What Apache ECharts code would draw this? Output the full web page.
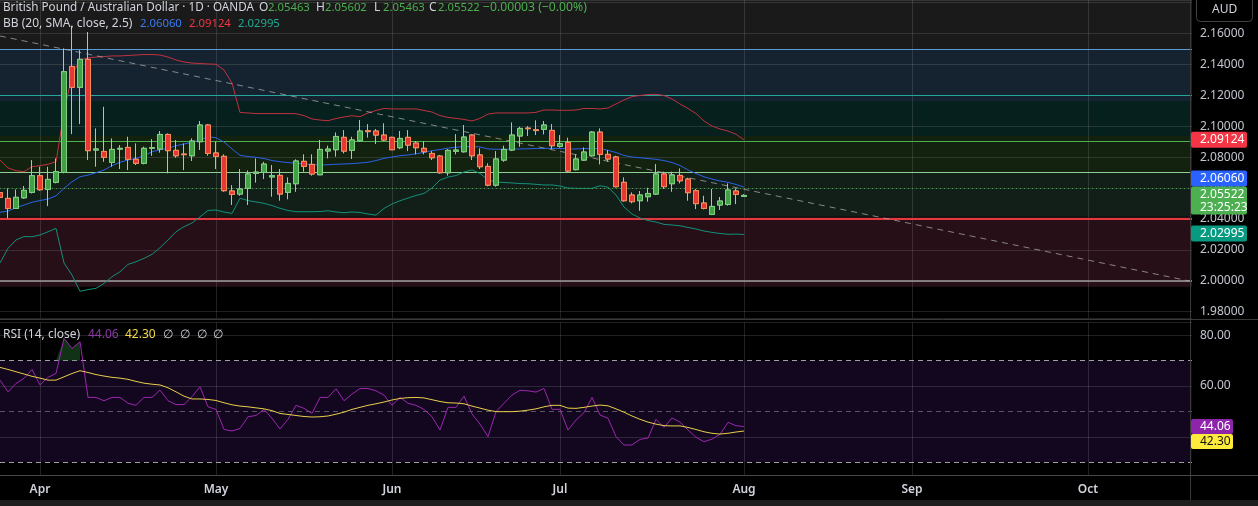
<!DOCTYPE html>
<html><head><meta charset="utf-8">
<script src="https://cdn.jsdelivr.net/npm/echarts@6/dist/echarts.min.js"></script>
<style>html,body{margin:0;padding:0;background:#000;overflow:hidden}#c{width:1258px;height:506px}</style>
</head><body><div id="c"></div>
<script>
// ---------- DATA ----------
const firstBarDate = '2025-03-25';
const barCount = 150;
const openP = [2.0570,2.0533,2.0468,2.0537,2.0572,2.0680,2.0591,2.0637,2.0701,2.1387,
2.1252,2.1433,2.0846,2.0837,2.0766,2.0852,2.0863,2.0786,2.0760,2.0858,
2.0852,2.0947,2.0844,2.0820,2.0809,2.0900,2.1008,2.0827,2.0805,2.0581,
2.0561,2.0598,2.0695,2.0701,2.0672,2.0682,2.0572,2.0628,2.0773,2.0753,
2.0686,2.0840,2.0848,2.0928,2.0844,2.0906,2.0971,2.0969,2.0943,2.0928,
2.0861,2.0928,2.0891,2.0857,2.0824,2.0807,2.0699,2.0838,2.0835,2.0943,
2.0814,2.0740,2.0619,2.0781,2.0846,2.0937,2.0988,2.0977,2.0980,2.0973,
2.0870,2.0896,2.0719,2.0781,2.0809,2.0962,2.0818,2.0801,2.0637,2.0555,
2.0518,2.0544,2.0561,2.0691,2.0628,2.0682,2.0658,2.0583,2.0503,2.0430,
2.0490,2.0494,2.0581,2.05463];
const highP = [2.0585,2.0598,2.0591,2.0613,2.0781,2.0738,2.0738,2.0792,2.1504,2.1650,
2.1493,2.1610,2.0986,2.1126,2.0921,2.0878,2.0932,2.0889,2.0868,2.0917,
2.0969,2.0954,2.0911,2.0889,2.0921,2.1034,2.1014,2.0900,2.0818,2.0619,
2.0723,2.0714,2.0792,2.0770,2.0749,2.0723,2.0669,2.0786,2.0818,2.0818,
2.0911,2.0874,2.0960,2.0975,2.0932,2.1040,2.1014,2.0982,2.1019,2.0932,
2.0969,2.0975,2.0904,2.0904,2.0839,2.0814,2.0852,2.0949,2.1008,2.0947,
2.0857,2.0760,2.0839,2.0874,2.1025,2.0997,2.1001,2.1038,2.1034,2.1014,
2.0943,2.0926,2.0818,2.0863,2.0969,2.0986,2.0846,2.0809,2.0669,2.0572,
2.0581,2.0602,2.0755,2.0706,2.0706,2.0727,2.0667,2.0594,2.0550,2.0594,
2.0542,2.0630,2.0598,2.05602];
const lowP = [2.0525,2.0404,2.0465,2.0531,2.0565,2.0583,2.0483,2.0630,2.0695,2.0949,
2.1014,2.0781,2.0738,2.0770,2.0738,2.0723,2.0716,2.0749,2.0753,2.0809,
2.0829,2.0695,2.0796,2.0716,2.0775,2.0846,2.0809,2.0723,2.0576,2.0490,
2.0550,2.0490,2.0635,2.0658,2.0544,2.0518,2.0527,2.0576,2.0706,2.0680,
2.0684,2.0792,2.0803,2.0824,2.0788,2.0900,2.0926,2.0885,2.0904,2.0845,
2.0852,2.0839,2.0818,2.0818,2.0781,2.0693,2.0680,2.0818,2.0829,2.0781,
2.0723,2.0611,2.0609,2.0770,2.0839,2.0867,2.0937,2.0943,2.0947,2.0852,
2.0861,2.0701,2.0714,2.0775,2.0803,2.0753,2.0770,2.0604,2.0512,2.0501,
2.0453,2.0512,2.0555,2.0594,2.0576,2.0630,2.0518,2.0464,2.0462,2.0425,
2.0458,2.0486,2.0496,2.05463];
const closeP = [2.0540,2.0468,2.0540,2.0585,2.0680,2.0589,2.0656,2.0706,2.1353,2.1252,
2.1433,2.0842,2.0853,2.0799,2.0850,2.0857,2.0786,2.0760,2.0857,2.0861,
2.0947,2.0842,2.0809,2.0816,2.0904,2.1008,2.0824,2.0805,2.0583,2.0559,
2.0594,2.0691,2.0703,2.0755,2.0680,2.0561,2.0630,2.0775,2.0740,2.0691,
2.0850,2.0852,2.0934,2.0839,2.0911,2.0969,2.0965,2.0943,2.0911,2.0848,
2.0921,2.0878,2.0861,2.0835,2.0796,2.0699,2.0844,2.0846,2.0930,2.0809,
2.0738,2.0619,2.0788,2.0850,2.0943,2.0986,2.0984,2.0972,2.1008,2.0874,
2.0887,2.0710,2.0788,2.0833,2.0962,2.0818,2.0788,2.0609,2.0518,2.0512,
2.0555,2.0565,2.0691,2.0609,2.0684,2.0647,2.0570,2.0499,2.0468,2.0481,
2.0516,2.0587,2.0559,2.05522];
const bbUpper = [2.0781,2.0730,2.0712,2.0706,2.0738,2.0745,2.0754,2.0770,2.1092,2.1332,
2.1429,2.1442,2.1448,2.1451,2.1455,2.1455,2.1458,2.1461,2.1464,2.1464,
2.1461,2.1448,2.1429,2.1416,2.1409,2.1406,2.1403,2.1401,2.1364,2.1280,
2.1089,2.1086,2.1082,2.1082,2.1082,2.1082,2.1082,2.1081,2.1069,2.1047,
2.1040,2.1036,2.1050,2.1060,2.1068,2.1062,2.1086,2.1102,2.1115,2.1112,
2.1112,2.1112,2.1112,2.1102,2.1092,2.1069,2.1057,2.1051,2.1044,2.1034,
2.1051,2.1079,2.1086,2.1086,2.1086,2.1086,2.1086,2.1090,2.1105,2.1105,
2.1103,2.1103,2.1105,2.1115,2.1115,2.1112,2.1118,2.1144,2.1170,2.1192,
2.1199,2.1205,2.1207,2.1199,2.1176,2.1144,2.1115,2.1082,2.1034,2.1001,
2.0982,2.0969,2.0948,2.09124];
const bbBasis = [2.0443,2.0451,2.0473,2.0490,2.0508,2.0519,2.0529,2.0550,2.0598,2.0641,
2.0673,2.0684,2.0699,2.0717,2.0745,2.0767,2.0781,2.0792,2.0809,2.0835,
2.0848,2.0857,2.0874,2.0885,2.0896,2.0911,2.0932,2.0926,2.0898,2.0853,
2.0812,2.0804,2.0799,2.0791,2.0778,2.0770,2.0765,2.0760,2.0756,2.0752,
2.0749,2.0751,2.0754,2.0756,2.0758,2.0762,2.0767,2.0778,2.0792,2.0801,
2.0809,2.0814,2.0822,2.0830,2.0842,2.0849,2.0859,2.0864,2.0868,2.0868,
2.0866,2.0853,2.0851,2.0851,2.0852,2.0853,2.0854,2.0856,2.0857,2.0857,
2.0856,2.0853,2.0853,2.0855,2.0856,2.0856,2.0844,2.0830,2.0811,2.0801,
2.0796,2.0791,2.0786,2.0778,2.0765,2.0746,2.0717,2.0694,2.0673,2.0658,
2.0646,2.0637,2.0623,2.0606];
const bbLower = [2.0115,2.0210,2.0264,2.0286,2.0285,2.0296,2.0317,2.0339,2.0115,2.0037,
1.9932,1.9943,1.9951,1.9983,2.0026,2.0058,2.0106,2.0123,2.0145,2.0171,
2.0214,2.0264,2.0317,2.0350,2.0374,2.0414,2.0455,2.0458,2.0445,2.0436,
2.0534,2.0519,2.0510,2.0501,2.0487,2.0469,2.0455,2.0447,2.0447,2.0447,
2.0448,2.0453,2.0445,2.0440,2.0445,2.0442,2.0432,2.0425,2.0468,2.0497,
2.0518,2.0535,2.0552,2.0565,2.0600,2.0652,2.0671,2.0681,2.0704,2.0717,
2.0695,2.0652,2.0639,2.0636,2.0633,2.0629,2.0628,2.0624,2.0620,2.0620,
2.0613,2.0600,2.0598,2.0598,2.0598,2.0615,2.0605,2.0555,2.0477,2.0432,
2.0406,2.0390,2.0380,2.0365,2.0361,2.0356,2.0345,2.0335,2.0322,2.0313,
2.0306,2.0301,2.0302,2.02995];
const rsiValues = [62.3,57.7,61.0,63.0,66.5,60.4,63.4,64.9,78.7,74.8,
77.4,55.5,55.5,54.2,55.5,55.5,53.2,52.4,55.5,55.5,
58.4,54.2,52.7,52.7,55.8,59.7,51.8,50.8,42.9,42.3,
43.3,47.9,48.4,50.8,47.3,43.1,46.9,52.4,51.2,49.2,
55.5,55.5,58.9,54.2,56.8,59.0,59.0,58.1,56.4,52.4,
55.5,53.2,52.4,50.8,47.9,42.7,51.6,51.6,56.0,49.0,
45.0,40.1,49.9,53.2,56.4,58.3,58.1,57.6,59.0,50.8,
50.8,42.7,46.6,49.5,55.5,48.6,47.3,40.1,36.8,36.8,
39.0,39.5,46.9,43.7,47.4,45.8,42.7,39.8,38.1,39.1,
41.0,45.7,44.4,44.06];
const rsiMA = [67.3,66.5,65.6,64.7,63.8,63.1,62.3,62.3,63.6,64.9,
66.0,65.3,64.5,63.9,63.4,63.1,62.6,61.8,61.1,60.7,
60.4,59.3,57.7,56.0,54.9,54.9,54.7,54.3,53.4,52.6,
52.1,51.8,51.4,51.0,50.3,49.2,48.8,48.4,48.0,47.8,
47.9,48.2,48.9,49.7,50.8,51.6,52.4,53.0,53.7,54.5,
55.1,55.4,55.5,55.3,54.6,53.9,53.4,53.3,53.0,52.1,
51.3,50.5,49.9,49.9,49.9,50.1,50.5,51.0,51.8,52.4,
52.4,51.3,51.2,51.6,52.1,52.5,52.2,51.0,49.7,48.2,
46.9,45.8,45.0,44.4,44.3,44.3,43.7,42.9,42.0,41.4,
41.1,41.4,41.9,42.30];
const zoneLevels = [2.1817, 2.1493, 2.1163, 2.0937, 2.0704, 2.0414, 1.9961];
const trendStart = 2.1584, trendEnd = 1.9995;
const lastPrice = 2.05522;
const priceRange = [1.9759, 2.1817];
const rsiRange = [25, 85];
const rsiLevels = [70, 50, 30];
const monthNames = ['Jan','Feb','Mar','Apr','May','Jun','Jul','Aug','Sep','Oct','Nov','Dec'];
const headerText = {
  title: 'British Pound / Australian Dollar · 1D · OANDA',
  ohlc: [['O','2.05463'],['H','2.05602'],['L','2.05463'],['C','2.05522']],
  change: '−0.00003 (−0.00%)',
  bb: 'BB (20, SMA, close, 2.5)',
  bbVals: ['2.06060','2.09124','2.02995'],
  rsi: 'RSI (14, close)',
  rsiVals: ['44.06','42.30'],
  countdown: '23:25:23'
};

// ---------- STYLE ----------
const FONT = "'Noto Sans', 'Open Sans', sans-serif";
const TXT = '#d1d4dc';
const GRIDC = 'rgba(150,150,150,0.22)';
const zoneFills = ['#1a1a1a', '#152331', '#06201e', '#13210f', '#121f18', '#260f16'];
const zoneEdges = [null, '#5b9bd5', '#26a69a', '#4caf50', '#8fcf8f', '#e0393e', '#9e9e9e'];
const zoneEdgeW = [0, 1, 1, 1, 1, 2, 1.5];
const UP = '#43a047', UPB = '#7fd37f', DN = '#e53935', DNB = '#ff8a50', WICK = '#b8bcc6';

// ---------- build ----------
const dates = [];
(function(){ let d = new Date(firstBarDate + 'T00:00:00Z');
  while (dates.length < barCount) { const w = d.getUTCDay(); if (w !== 0 && w !== 6) dates.push(d.toISOString().slice(0,10)); d = new Date(d.getTime() + 86400000); } })();
const monthStart = dates.map((s, i) => i > 0 && s.slice(5,7) !== dates[i-1].slice(5,7));
const isMonth = (i) => monthStart[i];

const wickData = openP.map((o, i) => [o, closeP[i], lowP[i], highP[i]]);
const bodyData = openP.map((o, i) => [o, closeP[i], Math.min(o, closeP[i]), Math.max(o, closeP[i])]);

const zoneAreas = [];
for (let i = 0; i < zoneFills.length; i++) zoneAreas.push([{yAxis: zoneLevels[i], itemStyle:{color: zoneFills[i]}}, {yAxis: zoneLevels[i+1]}]);
const zoneLines = [];
for (let i = 1; i < zoneLevels.length; i++) zoneLines.push({yAxis: zoneLevels[i], lineStyle:{color: zoneEdges[i], width: zoneEdgeW[i], type:'solid'}});

// overbought fill (RSI above upper band) drawn through the RSI axes
function renderOverbought(params, api) {
  const lvl = rsiLevels[0];
  const children = [];
  let run = null;
  for (let i = 0; i < rsiValues.length; i++) {
    const v = rsiValues[i];
    if (v > lvl) {
      if (!run) {
        run = [];
        if (i > 0) { const p = rsiValues[i-1]; const t = (lvl - p) / (v - p); run.push(api.coord([i - 1 + t, lvl])); }
        else run.push(api.coord([i, lvl]));
      }
      run.push(api.coord([i, v]));
    } else if (run) {
      const p = rsiValues[i-1]; const t = (lvl - p) / (v - p);
      run.push(api.coord([i - 1 + t, lvl]));
      children.push({type:'polygon', shape:{points: run}, style:{fill:'rgba(40,110,50,0.45)'}});
      run = null;
    }
  }
  return {type:'group', children};
}

const chart = echarts.init(document.getElementById('c'), null, {renderer:'canvas'});
const option = {
  backgroundColor: '#000',
  animation: false,
  grid: [
    {left: 0, right: 66, top: 0, height: 318},
    {left: 0, right: 66, top: 322.4, height: 152.6}
  ],
  xAxis: [
    {type:'category', gridIndex:0, data: dates, boundaryGap:false,
      axisLine:{show:false}, axisTick:{show:false}, axisLabel:{show:false},
      splitLine:{show:true, interval: isMonth, lineStyle:{color: GRIDC}}},
    {type:'category', gridIndex:1, data: dates, boundaryGap:false,
      axisLine:{show:false}, axisTick:{show:false},
      axisLabel:{show:true, interval: isMonth, formatter: (v) => monthNames[+v.slice(5,7) - 1],
        color: TXT, fontSize: 12, fontWeight: 600, fontFamily: FONT, margin: 9},
      splitLine:{show:true, interval: isMonth, lineStyle:{color: GRIDC}}}
  ],
  yAxis: [
    {type:'value', gridIndex:0, position:'right', min: priceRange[0], max: priceRange[1],
      minInterval: 0.02, maxInterval: 0.02,
      axisLine:{show:false}, axisTick:{show:false},
      splitLine:{show:true, lineStyle:{color: GRIDC}},
      axisLabel:{show:true, showMinLabel:false, showMaxLabel:false, margin: 8, color:'#c3c6ce', fontSize: 12, fontFamily: FONT,
        formatter: (v) => v > 2.17 ? '' : v.toFixed(5)}},
    {type:'value', gridIndex:1, position:'right', min: rsiRange[0], max: rsiRange[1],
      minInterval: 20, maxInterval: 20,
      axisLine:{show:false}, axisTick:{show:false},
      splitLine:{show:true, lineStyle:{color: GRIDC}},
      axisLabel:{show:true, showMinLabel:false, showMaxLabel:false, margin: 8, color:'#c3c6ce', fontSize: 12, fontFamily: FONT,
        formatter: (v) => v.toFixed(2)}}
  ],
  series: [
    {name:'zones', type:'line', xAxisIndex:0, yAxisIndex:0, data: [], z: -1, silent: true,
      markArea:{silent:true, z:-1, data: zoneAreas},
      markLine:{silent:true, z:1, symbol:['none','none'], label:{show:false}, data: zoneLines}},
    {name:'drawings', type:'line', xAxisIndex:0, yAxisIndex:0, data: [], z: 4, silent: true,
      markLine:{silent:true, z:4, symbol:['none','none'], label:{show:false},
        data: [
          [{coord:[0, trendStart], lineStyle:{color:'rgba(170,170,170,0.75)', width:1, type:[6,5]}}, {coord:[barCount-1, trendEnd]}],
          {yAxis: lastPrice, lineStyle:{color:'rgba(76,175,80,0.85)', width:1, type:[1,3]}}
        ]}},
    {name:'BB upper', type:'line', xAxisIndex:0, yAxisIndex:0, data: bbUpper, showSymbol:false, z:3,
      lineStyle:{color:'#c0323f', width:1}},
    {name:'BB basis', type:'line', xAxisIndex:0, yAxisIndex:0, data: bbBasis, showSymbol:false, z:3,
      lineStyle:{color:'#2a62e8', width:1}},
    {name:'BB lower', type:'line', xAxisIndex:0, yAxisIndex:0, data: bbLower, showSymbol:false, z:3,
      lineStyle:{color:'#14907a', width:1}},
    {name:'wicks', type:'candlestick', xAxisIndex:0, yAxisIndex:0, data: wickData, barWidth: 5, z: 10,
      itemStyle:{color:'rgba(0,0,0,0)', color0:'rgba(0,0,0,0)', borderColor: WICK, borderColor0: WICK, borderWidth:1}},
    {name:'bodies', type:'candlestick', xAxisIndex:0, yAxisIndex:0, data: bodyData, barWidth: 5, z: 11,
      itemStyle:{color: UP, color0: DN, borderColor: UPB, borderColor0: DNB, borderWidth:1}},
    {name:'rsiBand', type:'line', xAxisIndex:1, yAxisIndex:1, data: [], z:-1, silent:true,
      markArea:{silent:true, z:-1, data:[[{yAxis: rsiLevels[0], itemStyle:{color:'#13071f'}}, {yAxis: rsiLevels[2]}]]},
      markLine:{silent:true, z:1, symbol:['none','none'], label:{show:false},
        data:[
          {yAxis: rsiLevels[0], lineStyle:{color:'rgba(200,200,205,0.8)', width:1, type:[5,4]}},
          {yAxis: rsiLevels[1], lineStyle:{color:'rgba(150,150,160,0.55)', width:1, type:[5,4]}},
          {yAxis: rsiLevels[2], lineStyle:{color:'rgba(200,200,205,0.8)', width:1, type:[5,4]}}
        ]}},
    {name:'overbought', type:'custom', xAxisIndex:1, yAxisIndex:1, data:[0], z:2, silent:true,
      renderItem: renderOverbought},
    {name:'RSI', type:'line', xAxisIndex:1, yAxisIndex:1, data: rsiValues, showSymbol:false, z:3,
      lineStyle:{color:'#9c27b0', width:1}},
    {name:'RSI MA', type:'line', xAxisIndex:1, yAxisIndex:1, data: rsiMA, showSymbol:false, z:4,
      lineStyle:{color:'#e8cf4a', width:1}}
  ]
};
chart.setOption(option);

// ---------- overlay texts / price labels ----------
function T(x, y, s, fill, size) {
  return {type:'text', x: x, y: y, z: 100, silent:true,
    style: {text: s, fill: fill, font: (size || 12) + 'px ' + FONT, verticalAlign:'middle', textAlign:'left'}};
}
const py = (v) => chart.convertToPixel({yAxisIndex:0}, v);
const ry = (v) => chart.convertToPixel({yAxisIndex:1}, v);
const G = [];
// frame lines
G.push({type:'line', z:50, silent:true, shape:{x1:1190.5, y1:0, x2:1190.5, y2:500}, style:{stroke:'#3a3a3a', lineWidth:1}});
G.push({type:'line', z:50, silent:true, shape:{x1:0, y1:319.5, x2:1258, y2:319.5}, style:{stroke:'#3a3a3a', lineWidth:1}});
G.push({type:'line', z:50, silent:true, shape:{x1:0, y1:475.5, x2:1258, y2:475.5}, style:{stroke:'#474747', lineWidth:1}});
G.push({type:'rect', z:50, silent:true, shape:{x:0, y:500, width:1258, height:6}, style:{fill:'#1e1e1e'}});
// AUD button
G.push({type:'rect', z:60, silent:true, shape:{x:1196.5, y:-4.5, width:56, height:26, r:4}, style:{fill:'#000', stroke:'#434343', lineWidth:1}});
G.push(T(1212, 10, 'AUD', TXT));
// header line 1
G.push(T(3, 8, headerText.title, TXT, 11.7));
const ohlcX = [259, 316, 374, 429];
headerText.ohlc.forEach((p, i) => {
  G.push(T(ohlcX[i], 8, p[0], TXT, 12));
  G.push(T(ohlcX[i] + 9, 8, p[1], '#4caf50', 11.3));
});
G.push(T(483, 8, headerText.change, '#4caf50', 12.2));
// header line 2
G.push(T(3, 24, headerText.bb, TXT, 12));
G.push(T(140, 24, headerText.bbVals[0], '#3d7bf2', 11.3));
G.push(T(189, 24, headerText.bbVals[1], '#f23645', 11.3));
G.push(T(238, 24, headerText.bbVals[2], '#22ab94', 11.3));
// RSI header
G.push(T(3, 335, headerText.rsi, TXT, 12));
G.push(T(88, 335, headerText.rsiVals[0], '#8e3aa8', 12));
G.push(T(125, 335, headerText.rsiVals[1], '#f5d94a', 12));
[163, 180, 197, 213].forEach((x) => G.push(T(x, 335, '∅', TXT, 12)));

function box(yTop, h, fill, lines, txtFill, w) {
  G.push({type:'rect', z:70, silent:true, shape:{x:1191, y:yTop, width: w || 56, height:h, r:2}, style:{fill: fill}});
  lines.forEach((s, i) => G.push(Object.assign(T(1200, yTop + 8 + i * 13, s, txtFill || '#ffffff'), {z:71})));
}
const BH = 16;
const greenTop = py(lastPrice) - 9;
box(py(bbUpper[bbUpper.length-1]) - BH/2, BH, '#f23645', [headerText.bbVals[1]]);
box(greenTop - BH, BH, '#2962ff', [headerText.bbVals[0]]);
box(greenTop, 28, '#4caf50', [lastPrice.toFixed(5), headerText.countdown]);
box(py(bbLower[bbLower.length-1]) - BH/2 - 1, BH, '#089981', [headerText.bbVals[2]]);
const pTop = ry(rsiValues[rsiValues.length-1]) - 7.5;
box(pTop, 15, '#8e24aa', [headerText.rsiVals[0]], '#ffffff', 42);
box(pTop + 15, 15, '#ffeb3b', [headerText.rsiVals[1]], '#131313', 42);
chart.setOption({graphic: G});
</script></body></html>
